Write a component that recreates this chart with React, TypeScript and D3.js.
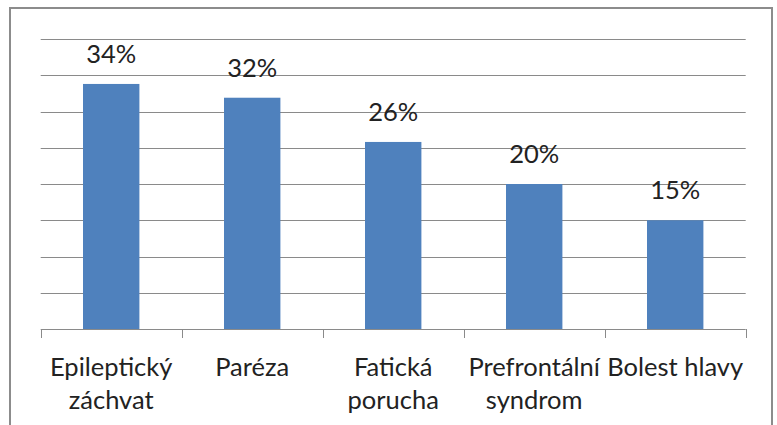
import React from "react";
import * as d3 from "d3";

const categories = ["Epileptický záchvat", "Paréza", "Fatická porucha", "Prefrontální syndrom", "Bolest hlavy"];
const categoryLines = [["Epileptický", "záchvat"], ["Paréza"], ["Fatická", "porucha"], ["Prefrontální", "syndrom"], ["Bolest hlavy"]];
const values = [33.8, 31.9, 25.8, 20, 15];
const yTicks = [0, 5, 10, 15, 20, 25, 30, 35, 40];

export default function App() {
  const W = 777, H = 425;
  const left = 40.7, right = 745.7, top = 39, bottom = 329;
  const x = d3.scaleBand<string>().domain(categories).range([left, right]).paddingInner(0.6).paddingOuter(0.3);
  const y = d3.scaleLinear().domain([0, 40]).range([bottom, top]);
  const step = x.step();
  const font = "Lato, 'Open Sans', sans-serif";
  const grid = "#8a8a8a";
  const fs = 25.5;
  return (
    <svg width={W} height={H} style={{ position: "absolute", left: 0, top: 0, background: "#fff" }}>
      <rect x={10} y={8} width={762} height={440} fill="#fff" stroke="#8c8c8c" strokeWidth={2} />
      {yTicks.slice(1).map((t) => (
        <line key={t} x1={left} x2={right} y1={Math.round(y(t)) + 0.5} y2={Math.round(y(t)) + 0.5} stroke={grid} strokeWidth={1} />
      ))}
      {categories.map((c, i) => (
        <rect key={c} x={x(c)} y={y(values[i])} width={x.bandwidth()} height={y(0) - y(values[i])} fill="#4f81bd" />
      ))}
      <line x1={left} x2={right} y1={bottom + 0.5} y2={bottom + 0.5} stroke={grid} strokeWidth={1} />
      {d3.range(categories.length + 1).map((i) => (
        <line key={i} x1={Math.round(left + i * step) + 0.5} x2={Math.round(left + i * step) + 0.5} y1={bottom} y2={bottom + 9} stroke={grid} strokeWidth={1} />
      ))}
      {categories.map((c, i) => (
        <text key={c} x={(x(c) as number) + x.bandwidth() / 2} y={y(values[i]) - 21} textAnchor="middle" fontFamily={font} fontSize={fs} fill="#222">
          {Math.round(values[i])}%
        </text>
      ))}
      {categories.map((c, i) => (
        <text key={c} x={(x(c) as number) + x.bandwidth() / 2} y={376} textAnchor="middle" fontFamily={font} fontSize={fs} fill="#222">
          {categoryLines[i].map((l, j) => (
            <tspan key={j} x={(x(c) as number) + x.bandwidth() / 2} y={376 + j * 33}>{l}</tspan>
          ))}
        </text>
      ))}
    </svg>
  );
}
